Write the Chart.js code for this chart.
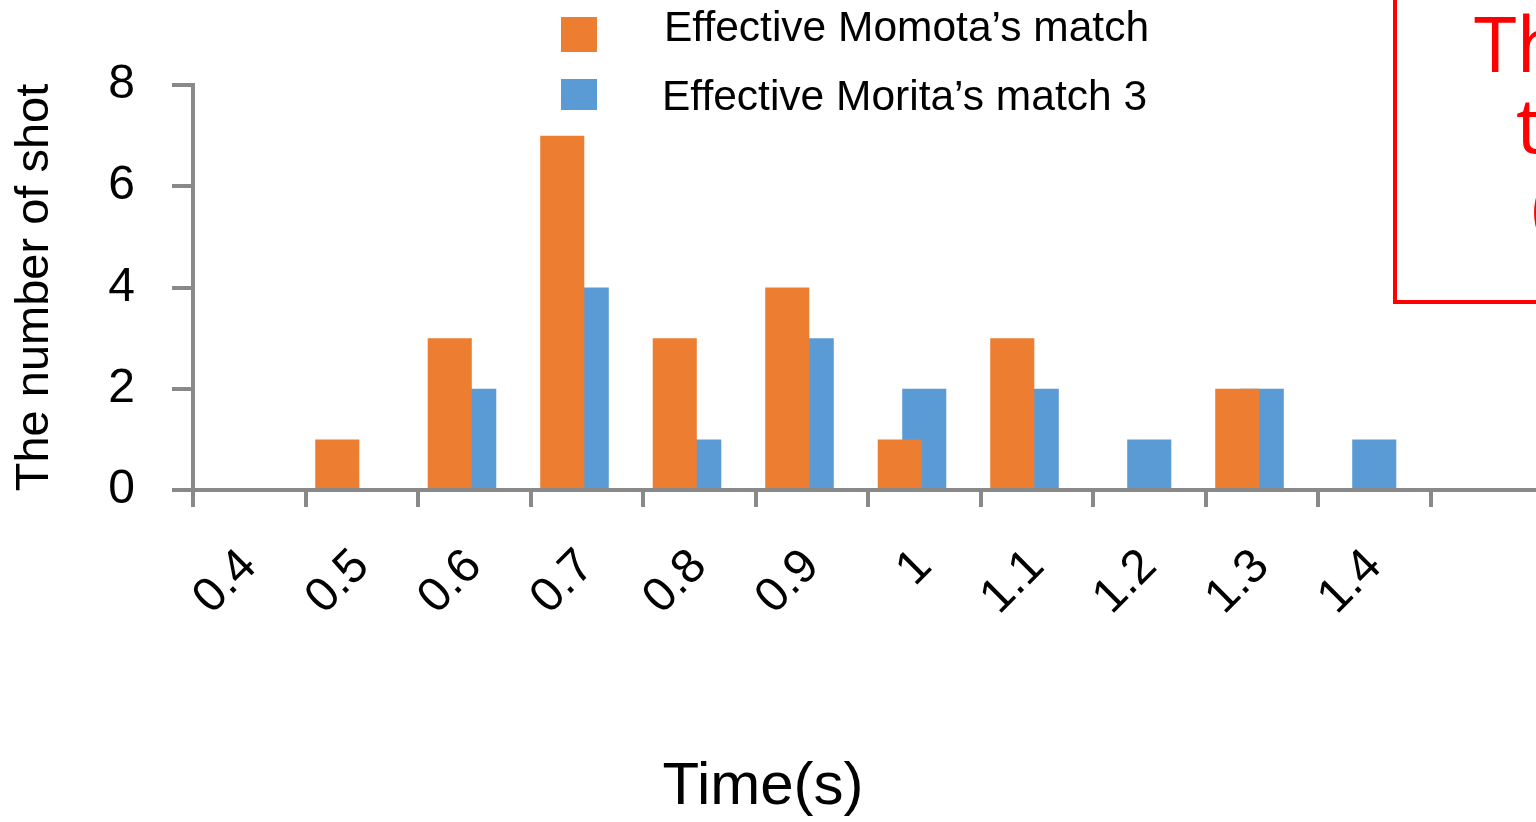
<!DOCTYPE html>
<html>
<head>
<meta charset="utf-8">
<title>Effective shot time</title>
<script src="https://cdn.jsdelivr.net/npm/chart.js@4.4.1/dist/chart.umd.min.js"></script>
<style>
  html, body { margin: 0; padding: 0; width: 1536px; height: 822px; overflow: hidden; background: #fff; }
  #wrap { position: absolute; left: 0; top: 0; width: 1543px; height: 822px; }
  .note-box { position: absolute; left: 1393px; top: -10px; width: 320px; height: 314px;
              border: 4px solid #ff0000; box-sizing: border-box; }
  .note-line { position: absolute; font-family: "Open Sans", sans-serif; font-size: 77px;
               line-height: 77px; color: #ff0000; white-space: nowrap; }
</style>
</head>
<body>
<div id="wrap"><canvas id="shotChart"></canvas></div>
<div class="note-box"></div>
<div class="note-line" style="left:1474px; top:4px;">The</div>
<div class="note-line" style="left:1516px; top:85px;">the</div>
<div class="note-line" style="left:1531px; top:166px;">(</div>

<script>
// Data
const timeLabels = ['0.4', '0.5', '0.6', '0.7', '0.8', '0.9', '1', '1.1', '1.2', '1.3', '1.4', ''];
const momotaShots = [0, 1, 3, 7, 3, 4, 1, 3, 0, 2, 0, null];
const moritaShots = [0, 0, 2, 4, 1, 3, 2, 2, 1, 2, 1, null];
const momotaLabel = 'Effective Momota\u2019s match';
const moritaLabel = 'Effective Morita\u2019s match 3';
const yMax = 8;
const yStep = 2;

const FONT = '"Liberation Sans", Arial, sans-serif';
const AXIS_GREY = '#898989';
const ORANGE = '#ED7D31';
const BLUE = '#5B9BD5';

/**
 * Draws the two-row legend and the x axis title where the slide had them
 */
const overlayText = {
  id: 'overlayText',
  afterDraw(chart, args, opts) {
    const { ctx } = chart;
    ctx.save();
    ctx.textBaseline = 'middle';
    ctx.textAlign = 'left';

    // legend, one row per named dataset
    let row = 0;
    chart.data.datasets.forEach(ds => {
      if (!ds.label) return;
      const r = opts.rows[row++];
      ctx.fillStyle = ds.backgroundColor;
      ctx.fillRect(opts.boxX, r.boxTop, opts.boxW, r.boxH);
      ctx.fillStyle = '#000';
      ctx.font = `42.5px ${FONT}`;
      ctx.fillText(ds.label, r.textX, r.textY);
    });

    // x axis title
    ctx.font = `60px ${FONT}`;
    ctx.textAlign = 'center';
    ctx.fillStyle = '#000';
    ctx.fillText(opts.xTitle, opts.xTitleX, opts.xTitleY);
    ctx.restore();
  }
};

// Bars overlap like the original: three slots per category (orange, blue, empty),
// bars wider than their slot so the orange one covers part of the blue one.
const SLOT_CATEGORY = 0.653;
const SLOT_BAR = 1.8;

const ctx = document.getElementById('shotChart').getContext('2d');
new Chart(ctx, {
  type: 'bar',
  data: {
    labels: timeLabels,
    datasets: [
      {
        label: momotaLabel,
        data: momotaShots,
        backgroundColor: ORANGE,
        order: 0,
        categoryPercentage: SLOT_CATEGORY,
        barPercentage: SLOT_BAR
      },
      {
        label: moritaLabel,
        data: moritaShots,
        backgroundColor: BLUE,
        order: 1,
        categoryPercentage: SLOT_CATEGORY,
        barPercentage: SLOT_BAR
      },
      {
        // empty slot so the blue bar lands on the category centre
        label: '',
        data: [],
        backgroundColor: 'rgba(0,0,0,0)',
        order: 2,
        categoryPercentage: SLOT_CATEGORY,
        barPercentage: SLOT_BAR
      }
    ]
  },
  options: {
    responsive: true,
    maintainAspectRatio: false,
    animation: false,
    layout: { padding: { top: 85, left: 0, right: 0, bottom: 0 } },
    plugins: {
      legend: { display: false },
      tooltip: { enabled: false },
      overlayText: {
        boxX: 561,
        boxW: 36,
        rows: [
          { boxTop: 17, boxH: 35, textX: 664, textY: 29 },
          { boxTop: 79, boxH: 31, textX: 662, textY: 98 }
        ],
        xTitle: 'Time(s)',
        xTitleX: 763,
        xTitleY: 787
      }
    },
    scales: {
      x: {
        type: 'category',
        offset: true,
        grid: {
          offset: true,
          drawOnChartArea: false,
          drawTicks: true,
          tickLength: 17,
          lineWidth: 4,
          color: AXIS_GREY
        },
        border: { display: true, color: AXIS_GREY, width: 4 },
        ticks: {
          autoSkip: false,
          minRotation: 45,
          maxRotation: 45,
          padding: 50,
          color: '#000',
          font: { family: FONT, size: 48, lineHeight: 0.1 }
        },
        afterFit(scale) { scale.height = 332; }
      },
      y: {
        min: 0,
        max: yMax,
        ticks: {
          stepSize: yStep,
          padding: 37,
          color: '#000',
          font: { family: FONT, size: 48 }
        },
        grid: {
          drawOnChartArea: false,
          drawTicks: true,
          tickLength: 21,
          lineWidth: 4,
          color: AXIS_GREY
        },
        border: { display: true, color: AXIS_GREY, width: 4 },
        title: {
          display: true,
          text: 'The number of shot',
          color: '#000',
          font: { family: FONT, size: 47, lineHeight: 1.2 },
          padding: { top: 7, bottom: 0 }
        },
        afterFit(scale) { scale.width = 193; }
      }
    }
  },
  plugins: [overlayText]
});
</script>
</body>
</html>
